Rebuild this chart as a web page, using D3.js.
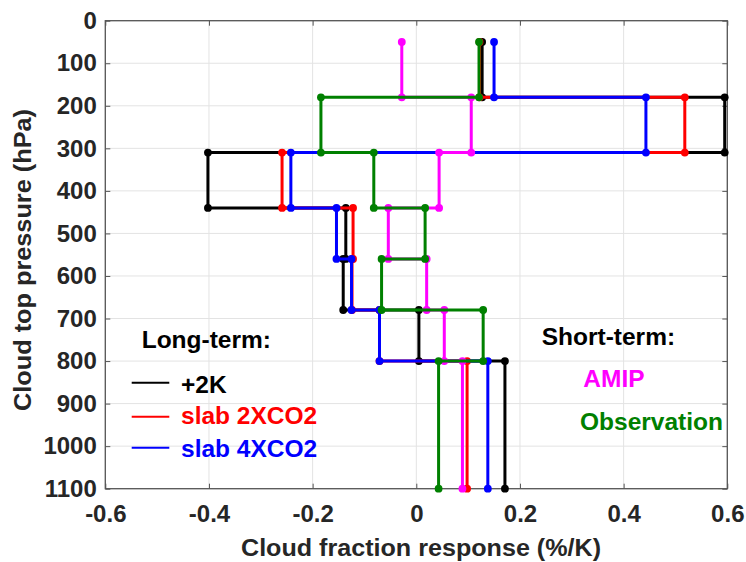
<!DOCTYPE html>
<html>
<head>
<meta charset="utf-8">
<script src="https://cdn.jsdelivr.net/npm/d3@7"></script>
<style>
  body { margin: 0; background: #fff; }
  text { font-family: "Liberation Sans", Arial, sans-serif; font-weight: bold; }
</style>
</head>
<body>
<svg id="canvas"></svg>
<script>
// pressure boundaries (hPa) of the cloud top layers
let levels = [50, 180, 310, 440, 560, 680, 800, 1100];

// response per layer, top layer first (%/K)
let plus2K      = [0.127, 0.595, -0.402, -0.136, -0.141, 0.005, 0.171];
let slab2XCO2   = [0.122, 0.518, -0.259, -0.122, -0.124, -0.071, 0.098];
let slab4XCO2   = [0.150, 0.443, -0.242, -0.154, -0.125, -0.071, 0.138];
let amip        = [-0.028, 0.106, 0.044, -0.054, 0.020, 0.054, 0.089];
let observation = [0.121, -0.184, -0.082, 0.017, -0.067, 0.129, 0.043];

let xTicks = [-0.6, -0.4, -0.2, 0, 0.2, 0.4, 0.6];
let yTicks = [0, 100, 200, 300, 400, 500, 600, 700, 800, 900, 1000, 1100];

let series = [
    {name: "+2K", values: plus2K, color: "#000000"},
    {name: "slab 2XCO2", values: slab2XCO2, color: "#ff0000"},
    {name: "slab 4XCO2", values: slab4XCO2, color: "#0000ff"},
    {name: "AMIP", values: amip, color: "#ff00ff"},
    {name: "Observation", values: observation, color: "#008000"}
];

let width = 746;
let height = 562;
let plotLeft = 105.3, plotRight = 727.3, plotTop = 20.7, plotBottom = 488.7;
let axisColor = "#262626";

let canvas = d3.select("#canvas")
canvas.attr("width", width)
canvas.attr("height", height)

let xScale = d3.scaleLinear().domain([-0.6, 0.6]).range([plotLeft, plotRight])
let yScale = d3.scaleLinear().domain([0, 1100]).range([plotTop, plotBottom])

let drawGrid = () => {
    let grid = canvas.append("g").attr("stroke", "#e3e3e3").attr("stroke-width", 1)
    grid.selectAll(".vgrid")
        .data(xTicks)
        .enter()
        .append("line")
        .attr("x1", d => xScale(d)).attr("x2", d => xScale(d))
        .attr("y1", plotTop).attr("y2", plotBottom)
    grid.selectAll(".hgrid")
        .data(yTicks)
        .enter()
        .append("line")
        .attr("x1", plotLeft).attr("x2", plotRight)
        .attr("y1", d => yScale(d)).attr("y2", d => yScale(d))
}

let drawAxes = () => {
    let styleAxis = (g) => {
        g.select(".domain").remove()
        g.selectAll(".tick line").attr("stroke", "#555").attr("stroke-width", 1)
        g.selectAll("text").attr("fill", axisColor).style("font-size", "24px")
    }

    canvas.append("g")
          .attr("transform", "translate(0," + plotBottom + ")")
          .call(d3.axisBottom(xScale).tickValues(xTicks).tickSizeInner(-5).tickSizeOuter(0)
                .tickPadding(16).tickFormat(d => String(d)))
          .call(styleAxis)

    canvas.append("g")
          .attr("transform", "translate(0," + plotTop + ")")
          .call(d3.axisTop(xScale).tickValues(xTicks).tickSizeInner(-5).tickSizeOuter(0).tickFormat(""))
          .call(styleAxis)

    canvas.append("g")
          .attr("transform", "translate(" + plotLeft + ",0)")
          .call(d3.axisLeft(yScale).tickValues(yTicks).tickSizeInner(-5).tickSizeOuter(0)
                .tickPadding(8.5).tickFormat(d => String(d)))
          .call(styleAxis)

    canvas.append("g")
          .attr("transform", "translate(" + plotRight + ",0)")
          .call(d3.axisRight(yScale).tickValues(yTicks).tickSizeInner(-5).tickSizeOuter(0).tickFormat(""))
          .call(styleAxis)

    canvas.append("rect")
          .attr("x", plotLeft).attr("y", plotTop)
          .attr("width", plotRight - plotLeft).attr("height", plotBottom - plotTop)
          .attr("fill", "none").attr("stroke", "#555").attr("stroke-width", 1.3)

    canvas.append("text")
          .attr("x", 421)
          .attr("y", 556)
          .attr("text-anchor", "middle")
          .attr("fill", axisColor)
          .attr("textLength", 360)
          .attr("lengthAdjust", "spacingAndGlyphs")
          .style("font-size", "23px")
          .text("Cloud fraction response (%/K)")

    canvas.append("text")
          .attr("transform", "translate(31," + 260 + ") rotate(-90)")
          .attr("text-anchor", "middle")
          .attr("fill", axisColor)
          .attr("textLength", 302)
          .attr("lengthAdjust", "spacingAndGlyphs")
          .style("font-size", "23px")
          .text("Cloud top pressure (hPa)")
}

let drawProfiles = () => {
    let line = d3.line().x(d => xScale(d[0])).y(d => yScale(d[1]))

    series.forEach((s) => {
        let points = []
        s.values.forEach((v, i) => {
            points.push([v, levels[i]])
            points.push([v, levels[i + 1]])
        })
        let g = canvas.append("g")
        g.append("path")
         .attr("d", line(points))
         .attr("fill", "none")
         .attr("stroke", s.color)
         .attr("stroke-width", 3)
        g.selectAll("circle")
         .data(points)
         .enter()
         .append("circle")
         .attr("cx", d => xScale(d[0]))
         .attr("cy", d => yScale(d[1]))
         .attr("r", 3.9)
         .attr("fill", s.color)
    })
}

let drawLegend = () => {
    let fs = "24.5px"
    canvas.append("text").attr("x", 141.7).attr("y", 348.3).attr("fill", "#000")
          .style("font-size", fs).text("Long-term:")

    let longRows = [
        {s: series[0], y: 382.7, base: 392.7},
        {s: series[1], y: 416.7, base: 423.5},
        {s: series[2], y: 447.7, base: 457.3}
    ]
    longRows.forEach((r) => {
        canvas.append("line")
              .attr("x1", 131.7).attr("x2", 169.3)
              .attr("y1", r.y).attr("y2", r.y)
              .attr("stroke", r.s.color).attr("stroke-width", 2)
        canvas.append("text").attr("x", 181).attr("y", r.base)
              .attr("fill", r.s.color).style("font-size", fs).text(r.s.name)
    })

    canvas.append("text").attr("x", 541.7).attr("y", 345).attr("fill", "#000")
          .style("font-size", fs).text("Short-term:")
    canvas.append("text").attr("x", 583.3).attr("y", 386.7).attr("fill", series[3].color)
          .style("font-size", fs).text(series[3].name)
    canvas.append("text").attr("x", 580).attr("y", 430).attr("fill", series[4].color)
          .style("font-size", fs).text(series[4].name)
}

drawGrid();
drawAxes();
drawProfiles();
drawLegend();
</script>
</body>
</html>
